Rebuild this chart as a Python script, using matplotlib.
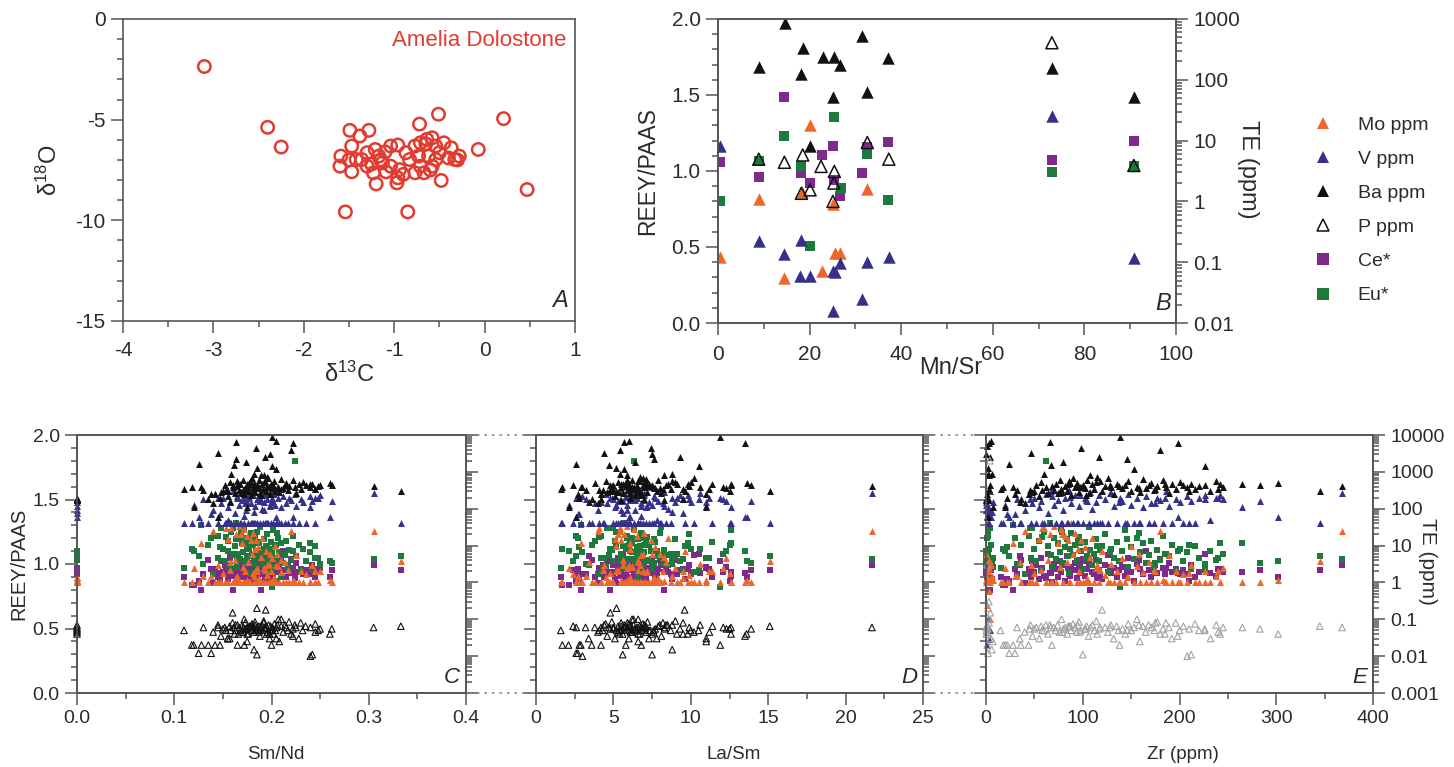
import matplotlib

matplotlib.use("Agg")

import matplotlib.pyplot as plt
import numpy as np
from matplotlib.lines import Line2D
from matplotlib.ticker import (FuncFormatter, LogLocator, MultipleLocator,
                               NullFormatter)

nan = np.nan

# --- A: carbon / oxygen isotopes, Amelia Dolostone ---
d13c = [-3.10, -2.40, -2.25, -0.51, 0.21, -0.07, 0.47, -1.54, -0.85, -0.72,
        -1.49, -1.28, -1.38, -1.47, -1.20, -0.97, -0.48, -1.60, -1.59, -1.47,
        -1.04, -0.96, -0.87, -0.94, -0.90, -0.96, -1.09, -1.30, -1.21, -1.17,
        -1.13, -1.30, -1.36, -0.77, -0.71, -0.64, -0.58, -0.45, -0.37, -0.28,
        -0.33, -0.54, -0.62, -0.71, -0.77, -0.67, -0.58, -0.50, -0.73, -0.83,
        -1.04, -1.42, -1.23, -0.54, -1.15, -1.25, -0.60, -0.40, -1.50, -0.30,
        -0.65, -1.10]
d18o = [-2.36, -5.38, -6.36, -4.73, -4.95, -6.48, -8.47, -9.58, -9.58, -5.22,
        -5.53, -5.53, -5.81, -6.31, -8.19, -8.14, -8.02, -7.31, -6.81, -7.59,
        -6.31, -6.26, -6.64, -7.48, -7.72, -7.89, -7.59, -6.64, -6.48, -6.81,
        -7.14, -7.31, -6.98, -6.31, -6.15, -5.98, -5.90, -6.15, -6.40, -6.81,
        -6.98, -6.98, -6.81, -7.31, -7.64, -7.64, -7.31, -6.64, -6.81, -6.98,
        -7.31, -6.98, -7.64, -6.31, -7.00, -7.20, -7.50, -6.90, -7.00, -7.00,
        -6.20, -6.60]

# --- B: against Mn/Sr (REE anomalies on the left, trace elements in ppm) ---
b_ba_x = [14.6, 9.0, 18.5, 18.1, 22.9, 25.4, 26.6, 25.1, 20.0, 31.5, 32.6, 37.1, 72.9, 90.8]
b_ba = [871, 160, 329, 125, 240, 240, 176, 52, 8.0, 525, 62, 232, 154, 53]
b_v_x = [0.5, 8.9, 14.5, 18.1, 18.0, 20.0, 25.1, 25.6, 26.7, 25.1, 31.5, 32.6, 37.3, 72.9, 90.8]
b_v = [8.3, 0.225, 0.138, 0.228, 0.060, 0.060, 0.071, 0.068, 0.097, 0.016, 0.025, 0.100,
       0.122, 25.4, 0.119]
b_mo_x = [0.5, 8.9, 14.5, 18.4, 20.0, 22.7, 25.1, 25.6, 26.7, 32.6]
b_mo = [0.12, 1.10, 0.056, 1.41, 18.1, 0.071, 0.91, 0.141, 0.141, 1.59]
b_p_x = [14.5, 8.9, 18.5, 18.2, 20.1, 22.5, 25.4, 25.3, 25.1, 32.6, 37.3, 72.9, 90.8]
b_p = [4.4, 4.95, 5.8, 1.36, 1.55, 3.76, 3.11, 2.0, 1.0, 9.3, 4.95, 407, 3.9]
b_ce_x = [0.5, 8.9, 14.4, 18.1, 20.1, 22.7, 25.1, 25.4, 26.7, 31.5, 32.6, 37.1, 72.9, 90.8]
b_ce = [1.058, 0.959, 1.485, 0.990, 0.924, 1.106, 1.165, 0.942, 0.837, 0.986, 1.161,
        1.194, 1.073, 1.200]
b_eu_x = [0.5, 8.9, 14.4, 18.1, 20.0, 25.4, 26.9, 32.6, 37.1, 72.9, 90.8]
b_eu = [0.800, 1.067, 1.227, 1.030, 0.508, 1.354, 0.887, 1.113, 0.811, 0.996, 1.036]

# --- C-E: whole sample set against Sm/Nd, La/Sm and Zr ---
sm_nd = [0, 0, 0, 0, 0, 0, nan, nan, nan, nan,
         0.172, 0.185, 0.198, 0.16, 0.205, 0.182, 0.145, 0.21, 0.175, 0.192,
         0.11, 0.12, 0.125, 0.128, 0.13, 0.135, 0.14, 0.142, 0.145, 0.148,
         0.15, 0.152, 0.155, 0.157, 0.158, 0.16, 0.162, 0.163, 0.165, 0.167,
         0.168, 0.17, 0.171, 0.172, 0.174, 0.175, 0.176, 0.178, 0.179, 0.18,
         0.181, 0.182, 0.183, 0.184, 0.185, 0.186, 0.187, 0.188, 0.189, 0.19,
         0.191, 0.192, 0.193, 0.194, 0.195, 0.196, 0.197, 0.198, 0.199, 0.2,
         0.201, 0.202, 0.203, 0.204, 0.205, 0.207, 0.208, 0.21, 0.212, 0.214,
         0.215, 0.217, 0.218, 0.22, 0.222, 0.224, 0.225, 0.228, 0.23, 0.232,
         0.235, 0.24, 0.242, 0.245, 0.248, 0.25, 0.155, 0.165, 0.175, 0.185,
         0.153, 0.161, 0.169, 0.177, 0.183, 0.189, 0.195, 0.201, 0.163, 0.173,
         0.147, 0.157, 0.171, 0.179, 0.187, 0.193, 0.199, 0.206, 0.166, 0.181,
         0.305, 0.333, 0.26, 0.262, 0.24, 0.245, 0.118, 0.138, 0.2, 0.222]
la_sm = [4.2, 5.5, 6.1, 7.0, 8.3, 9.5, nan, nan, nan, nan,
         6.8, 5.2, 7.5, 4.8, 6.0, 8.8, 2.6, 6.6, 11.0, 5.9,
         1.6, 2.1, 2.6, 2.9, 3.2, 3.6, 4.0, 4.2, 4.4, 4.6,
         4.8, 5.0, 5.1, 5.3, 5.4, 5.5, 5.6, 5.7, 5.8, 5.9,
         6.0, 6.1, 6.2, 6.3, 6.4, 6.5, 6.6, 6.7, 6.8, 6.9,
         7.0, 7.1, 7.2, 7.4, 7.5, 7.7, 7.9, 8.1, 8.3, 8.5,
         8.7, 9.0, 9.3, 9.6, 9.9, 10.2, 10.6, 11.0, 11.4, 11.9,
         12.3, 12.6, 4.5, 5.2, 5.7, 6.2, 6.6, 7.1, 7.6, 8.4,
         3.8, 4.3, 4.9, 5.4, 5.9, 6.3, 6.8, 7.3, 9.5, 10.0,
         2.4, 3.0, 5.6, 6.0, 6.5, 6.9, 7.8, 8.8, 9.8, 12.1,
         4.1, 4.7, 5.3, 5.8, 6.1, 6.4, 6.7, 7.0, 7.6, 8.2,
         2.8, 3.4, 5.0, 5.5, 6.2, 6.6, 7.3, 8.0, 9.1, 12.5,
         21.7, 15.1, 13.6, 13.9, 12.6, 11.2, 1.7, 2.7, 10.5, 13.5]
zr = [0, 0.5, 1, 1.5, 2, 2.5, 4, 1, 2, 3,
      1.2, 2.2, 0.3, 4.5, 5, 6, 1.8, 2.8, 7, 3.2,
      15, 20, 24, 28, 32, 36, 40, 44, 46, 48,
      50, 52, 55, 57, 60, 186, 64, 66, 68, 70,
      72, 74, 76, 78, 80, 82, 84, 86, 88, 90,
      92, 94, 96, 98, 100, 102, 104, 106, 108, 110,
      112, 114, 117, 120, 123, 126, 129, 132, 135, 138,
      141, 144, 147, 150, 153, 156, 159, 162, 165, 168,
      171, 174, 177, 180, 183, 62, 189, 192, 196, 200,
      204, 208, 212, 216, 220, 226, 232, 238, 242, 245,
      58, 67, 79, 87, 95, 103, 115, 128, 146, 175,
      22, 35, 45, 85, 97, 118, 137, 158, 185, 210,
      368, 345, 302, 283, 265, 240, 18, 30, 226, 198]
mo_ppm = [1.0, 1.2, 1.4, 1.0, 1.1, 1.3, 0.1, 0.25, 0.05, 0.6,
          1.0, 2.0, 6.0, 1.0, 3.0, 1.5, 1.0, 4.0, 1.2, 2.5,
          1.0, 2.5, 1.0, 12, 1.5, 1.0, 25, 1.0, 3.0, 1.0,
          1.8, 1.0, 15, 2.2, 30, 1.0, 4.0, 20, 1.0, 35,
          1.0, 12, 2.6, 28, 1.0, 18, 3.5, 1.0, 40, 6.0,
          22, 1.0, 2.0, 14, 1.0, 9.0, 1.3, 1.0, 5.0, 16,
          1.0, 2.4, 1.0, 7.0, 1.6, 1.0, 3.2, 1.0, 2.0, 1.0,
          4.5, 1.0, 1.4, 10, 1.0, 2.8, 1.0, 1.9, 1.0, 3.6,
          1.0, 2.2, 1.0, 25, 1.2, 1.0, 5.5, 1.0, 2.0, 1.0,
          1.7, 1.0, 3.0, 1.0, 1.0, 2.0, 1.0, 1.5, 1.0, 2.5,
          30, 1.0, 20, 1.0, 8.0, 1.0, 3.0, 1.0, 1.4, 2.0,
          1.0, 3.5, 1.0, 14, 1.0, 2.2, 1.0, 6.0, 1.0, 1.8,
          25, 3.8, 1.2, 1.0, 1.0, 2.0, 1.0, 1.5, 1.0, 1.0]
v_ppm = [150, 90, 60, 170, 120, 75, 0.05, 0.02, 0.1, 0.03,
         65, 42, 130, 300, 60, 80, 200, 42, 150, 95,
         42, 130, 60, 42, 180, 42, 90, 250, 42, 140,
         200, 42, 110, 160, 42, 300, 75, 42, 220, 130,
         42, 170, 260, 42, 95, 190, 42, 320, 140, 42,
         240, 42, 120, 380, 42, 200, 160, 42, 280, 100,
         42, 150, 230, 42, 180, 42, 270, 120, 42, 200,
         160, 42, 250, 130, 42, 190, 42, 110, 220, 42,
         140, 42, 200, 170, 42, 250, 120, 42, 180, 150,
         42, 220, 160, 42, 190, 240, 50, 200, 230, 180,
         42, 310, 42, 210, 42, 170, 42, 260, 42, 140,
         70, 42, 180, 42, 230, 42, 150, 42, 200, 42,
         260, 42, 60, 160, 110, 200, 42, 70, 180, 60]
ba_ppm = [180, 175, 190, 185, 170, 178, 2500, 5000, 900, 6000,
          250, 1300, 3000, 450, 7000, 900, 60, 350, 110, 800,
          350, 110, 1600, 400, 320, 180, 140, 250, 3200, 280,
          300, 450, 220, 520, 900, 380, 260, 6500, 410, 330,
          480, 270, 600, 350, 1800, 420, 310, 550, 240, 700,
          380, 500, 290, 4500, 440, 360, 620, 270, 800, 460,
          340, 520, 2600, 300, 410, 680, 390, 250, 470, 9000,
          360, 430, 560, 310, 1200, 400, 280, 640, 370, 450,
          500, 330, 420, 3800, 600, 390, 260, 470, 350, 520,
          430, 380, 480, 350, 410, 440, 300, 560, 460, 400,
          320, 1500, 280, 510, 380, 240, 720, 430, 2300, 350,
          200, 150, 330, 470, 390, 550, 420, 360, 480, 300,
          420, 300, 500, 450, 480, 350, 400, 250, 1400, 6000]
p_ppm = [0.06, 0.05, 0.045, 0.07, 0.055, 0.04, 2000, 3.0, 0.012, 0.3,
         0.02, 0.2, 0.04, 0.15, 0.03, 0.015, 0.06, 0.1, 0.025, 0.08,
         0.05, 0.02, 0.012, 0.02, 0.06, 0.02, 0.045, 0.02, 0.07, 0.035,
         0.055, 0.06, 0.03, 0.065, 0.05, 0.08, 0.04, 0.07, 0.02, 0.06,
         0.05, 0.07, 0.045, 0.1, 0.055, 0.06, 0.04, 0.065, 0.05, 0.075,
         0.06, 0.045, 0.085, 0.05, 0.011, 0.055, 0.065, 0.035, 0.06, 0.07,
         0.05, 0.09, 0.055, 0.18, 0.06, 0.045, 0.07, 0.03, 0.065, 0.02,
         0.055, 0.04, 0.075, 0.05, 0.06, 0.1, 0.025, 0.065, 0.045, 0.07,
         0.06, 0.05, 0.085, 0.04, 0.055, 0.07, 0.06, 0.03, 0.08, 0.05,
         0.065, 0.01, 0.011, 0.075, 0.05, 0.055, 0.03, 0.07, 0.04, 0.06,
         0.05, 0.06, 0.045, 0.065, 0.07, 0.055, 0.04, 0.06, 0.05, 0.08,
         0.02, 0.03, 0.055, 0.065, 0.045, 0.06, 0.05, 0.07, 0.04, 0.055,
         0.06, 0.065, 0.04, 0.055, 0.06, 0.045, 0.02, 0.012, 0.05, 0.035]
ce_anom = [0.95, 0.93, 0.97, 0.92, 0.94, 0.96, nan, nan, nan, nan,
           0.90, 0.85, 1.00, 0.80, 0.95, 0.88, 0.93, 1.05, 0.98, 0.86,
           0.90, 0.84, 0.87, 0.80, 0.92, 1.03, 0.85, 0.96, 0.90, 1.02,
           0.94, 0.99, 0.88, 1.05, 0.91, 0.97, 1.08, 0.93, 0.86, 1.00,
           0.96, 0.90, 1.02, 0.94, 0.99, 0.87, 1.06, 0.92, 0.98, 0.95,
           1.01, 0.89, 0.97, 0.93, 1.04, 0.91, 0.96, 1.00, 0.80, 0.94,
           0.92, 1.03, 0.95, 0.88, 0.99, 1.07, 0.93, 0.97, 0.90, 1.02,
           0.98, 0.91, 1.05, 0.94, 0.87, 1.00, 0.96, 0.92, 1.10, 0.95,
           0.90, 0.99, 0.93, 1.04, 0.97, 0.89, 1.01, 0.94, 0.96, 0.92,
           0.95, 0.92, 0.99, 0.90, 0.94, 0.97, 0.93, 0.91, 0.96, 0.94,
           0.97, 0.93, 1.00, 0.91, 0.95, 1.02, 0.89, 0.98, 0.94, 0.99,
           0.88, 1.06, 0.93, 0.97, 1.01, 0.90, 0.95, 1.03, 0.92, 0.87,
           0.99, 0.95, 0.90, 0.95, 0.94, 0.96, 0.84, 0.96, 1.08, 0.93]
eu_anom = [1.05, 1.08, 1.10, 1.03, 1.07, 1.04, nan, nan, nan, nan,
           1.20, 1.25, 1.10, 1.28, 1.15, 1.00, 1.22, 0.90, 1.05, 1.12,
           0.97, 1.10, 1.06, 1.30, 1.00, 1.15, 0.92, 1.22, 1.05, 1.28,
           1.12, 1.02, 1.18, 0.95, 1.25, 1.08, 1.14, 1.32, 0.98, 1.20,
           1.04, 1.16, 1.09, 1.27, 1.01, 1.13, 1.19, 0.93, 1.24, 1.07,
           1.15, 1.03, 1.21, 1.10, 0.96, 1.17, 1.06, 1.29, 1.11, 0.99,
           1.08, 1.19, 1.02, 1.14, 1.23, 0.94, 1.12, 1.05, 1.17, 0.82,
           1.10, 1.26, 0.98, 1.13, 1.04, 1.20, 1.09, 1.16, 1.01, 1.07,
           1.18, 0.97, 1.11, 1.03, 1.22, 1.80, 1.06, 1.15, 0.95, 1.12,
           1.02, 1.09, 0.96, 1.14, 1.05, 1.00, 1.10, 1.03, 1.16, 1.08,
           1.21, 1.07, 1.25, 1.12, 1.18, 1.04, 1.14, 1.09, 1.19, 1.01,
           1.13, 0.99, 1.28, 1.06, 1.16, 1.11, 1.02, 1.24, 1.08, 1.15,
           1.04, 1.06, 1.02, 1.01, 1.16, 1.05, 1.12, 1.20, 0.95, 1.10]

W, H = 1454, 767
AXIS = "#555555"
TEXT = "#2b2b2b"
RED = "#e23b30"
MO = "#ee662a"
VAN = "#35308a"
BA = "#111111"
GREY_P = "#a3a3a3"
CE = "#7d2a8c"
EU = "#1e7a3c"

plt.rcParams["font.family"] = "Liberation Sans"
plt.rcParams["mathtext.fontset"] = "custom"
plt.rcParams["mathtext.rm"] = "Liberation Sans"
plt.rcParams["mathtext.it"] = "Liberation Sans:italic"
plt.rcParams["axes.unicode_minus"] = False

fig = plt.figure(figsize=(W / 100, H / 100), dpi=100)


def add_axes_px(left, top, right, bottom):
    return fig.add_axes([left / W, 1 - bottom / H, (right - left) / W, (bottom - top) / H])


def style_axis(ax, size, pad=4):
    ax.tick_params(which="both", direction="out", color=AXIS, labelcolor=TEXT,
                   labelsize=size, width=1.1, pad=pad)
    ax.tick_params(which="major", length=8.5)
    ax.tick_params(which="minor", length=4.5)
    for spine in ax.spines.values():
        spine.set_color(AXIS)
        spine.set_linewidth(1.2)


def log_axis(ax, lo, hi, size):
    ax.set_yscale("log")
    ax.set_ylim(lo, hi)
    ax.yaxis.set_major_locator(LogLocator(base=10, numticks=15))
    ax.yaxis.set_minor_locator(LogLocator(base=10, subs=np.arange(2, 10), numticks=15))
    ax.yaxis.set_minor_formatter(NullFormatter())
    ax.yaxis.set_major_formatter(FuncFormatter(lambda v, _: f"{v:g}"))
    style_axis(ax, size)


one_dp = FuncFormatter(lambda v, _: f"{v:.1f}")

# ---------- A ----------
axA = add_axes_px(123, 19, 575, 321)
axA.scatter(d13c, d18o, s=80, facecolors="none", edgecolors=RED, linewidths=1.8)
axA.set_xlim(-4, 1)
axA.set_ylim(-15, 0)
axA.xaxis.set_major_locator(MultipleLocator(1))
axA.xaxis.set_minor_locator(MultipleLocator(0.5))
axA.yaxis.set_major_locator(MultipleLocator(5))
axA.yaxis.set_minor_locator(MultipleLocator(1))
style_axis(axA, 15)
axA.tick_params(axis="x", pad=6)
axA.set_xlabel(r"δ$^{13}$C", fontsize=17, color=TEXT)
axA.set_ylabel(r"δ$^{18}$O", fontsize=17, color=TEXT)
axA.xaxis.set_label_coords(0.5, -0.135)
axA.yaxis.set_label_coords(-0.135, 0.5)
axA.text(0.982, 0.93, "Amelia Dolostone", transform=axA.transAxes, ha="right",
         va="center", fontsize=16, color=RED)
axA.text(0.985, 0.03, "A", transform=axA.transAxes, ha="right", va="bottom",
         fontsize=17, style="italic", color=TEXT)

# ---------- B ----------
axB = add_axes_px(718, 19, 1176, 323)
axB.scatter(b_ce_x, b_ce, marker="s", s=60, color=CE, linewidths=0)
axB.scatter(b_eu_x, b_eu, marker="s", s=60, color=EU, linewidths=0)
axB.set_xlim(0, 100)
axB.set_ylim(0, 2)
axB.xaxis.set_major_locator(MultipleLocator(20))
axB.xaxis.set_minor_locator(MultipleLocator(10))
axB.yaxis.set_major_locator(MultipleLocator(0.5))
axB.yaxis.set_minor_locator(MultipleLocator(0.1))
axB.yaxis.set_major_formatter(one_dp)
style_axis(axB, 15)
axB.tick_params(axis="x", pad=7)
axB.set_xlabel("Mn/Sr", fontsize=17, color=TEXT)
axB.set_ylabel("REEY/PAAS", fontsize=16.5, color=TEXT)
axB.xaxis.set_label_coords(0.507, -0.112)
axB.yaxis.set_label_coords(-0.128, 0.5)
axB.text(0.99, 0.025, "B", transform=axB.transAxes, ha="right", va="bottom",
         fontsize=17, style="italic", color=TEXT)

axB2 = axB.twinx()
log_axis(axB2, 0.01, 1000, 15)
axB2.scatter(b_mo_x, b_mo, marker="^", s=80, color=MO, linewidths=0)
axB2.scatter(b_v_x, b_v, marker="^", s=80, color=VAN, linewidths=0)
axB2.scatter(b_ba_x, b_ba, marker="^", s=80, color=BA, linewidths=0)
axB2.scatter(b_p_x, b_p, marker="^", s=75, facecolors="none", edgecolors=BA, linewidths=1.1)
axB2.text(1.157, 0.505, "TE (ppm)", transform=axB2.transAxes, rotation=270,
          ha="center", va="center", fontsize=17, color=TEXT)

legend_handles = [
    Line2D([], [], ls="none", marker="^", ms=9, color=MO, mew=0),
    Line2D([], [], ls="none", marker="^", ms=9, color=VAN, mew=0),
    Line2D([], [], ls="none", marker="^", ms=9, color=BA, mew=0),
    Line2D([], [], ls="none", marker="^", ms=8.5, mfc="none", mec=BA, mew=1.1),
    Line2D([], [], ls="none", marker="s", ms=8, color=CE, mew=0),
    Line2D([], [], ls="none", marker="s", ms=8, color=EU, mew=0),
]
fig.legend(legend_handles, ["Mo ppm", "V ppm", "Ba ppm", "P ppm", "Ce*", "Eu*"],
           loc="upper left", bbox_to_anchor=(1313 / W, 1 - 116 / H), frameon=False,
           fontsize=14, handlelength=1.0, handletextpad=1.3, labelspacing=0.85,
           borderpad=0, borderaxespad=0, labelcolor=TEXT)

# ---------- C, D, E ----------
panels = [
    ("C", sm_nd, 0.4, 0.1, 0.05, "Sm/Nd", 77, 466, one_dp),
    ("D", la_sm, 25, 5, 2.5, "La/Sm", 536, 923, FuncFormatter(lambda v, _: f"{v:g}")),
    ("E", zr, 400, 100, 50, "Zr (ppm)", 986, 1373, FuncFormatter(lambda v, _: f"{v:g}")),
]

for letter, xs, xmax, major, minor, xlabel, left, right, xfmt in panels:
    ax = add_axes_px(left, 435, right, 693)
    ax.scatter(xs, ce_anom, marker="s", s=22, color=CE, linewidths=0, clip_on=False)
    ax.scatter(xs, eu_anom, marker="s", s=22, color=EU, linewidths=0, clip_on=False)
    ax.set_xlim(0, xmax)
    ax.set_ylim(0, 2)
    ax.xaxis.set_major_locator(MultipleLocator(major))
    ax.xaxis.set_minor_locator(MultipleLocator(minor))
    ax.xaxis.set_major_formatter(xfmt)
    ax.yaxis.set_major_locator(MultipleLocator(0.5))
    ax.yaxis.set_minor_locator(MultipleLocator(0.1))
    ax.yaxis.set_major_formatter(one_dp)
    style_axis(ax, 14)
    ax.set_xlabel(xlabel, fontsize=13.5, color=TEXT)
    ax.xaxis.set_label_coords(0.51, -0.205)
    if letter == "C":
        ax.set_ylabel("REEY/PAAS", fontsize=14.5, color=TEXT)
        ax.yaxis.set_label_coords(-0.125, 0.5)
    else:
        ax.tick_params(labelleft=False)
    ax.text(0.985, 0.02, letter, transform=ax.transAxes, ha="right", va="bottom",
            fontsize=16, style="italic", color=TEXT)

    ax2 = ax.twinx()
    log_axis(ax2, 0.001, 10000, 14)
    ax2.scatter(xs, mo_ppm, marker="^", s=25, color=MO, linewidths=0, clip_on=False)
    ax2.scatter(xs, v_ppm, marker="^", s=25, color=VAN, linewidths=0, clip_on=False)
    ax2.scatter(xs, ba_ppm, marker="^", s=25, color=BA, linewidths=0, clip_on=False)
    p_colour = GREY_P if letter == "E" else BA
    ax2.scatter(xs, p_ppm, marker="^", s=22, facecolors="none", edgecolors=p_colour,
                linewidths=0.8, clip_on=False)
    if letter == "E":
        ax2.text(1.142, 0.51, "TE (ppm)", transform=ax2.transAxes, rotation=270,
                 ha="center", va="center", fontsize=15, color=TEXT)
    else:
        ax2.tick_params(labelright=False)

# dotted links joining the lower panels
for x0, x1 in [(477, 524), (933, 975)]:
    for y in (435, 693):
        fig.add_artist(Line2D([x0 / W, x1 / W], [1 - y / H, 1 - y / H],
                              ls=(0, (1.5, 3)), color="#8a8a8a", lw=1.2))

fig.savefig("out.png", dpi=100)
